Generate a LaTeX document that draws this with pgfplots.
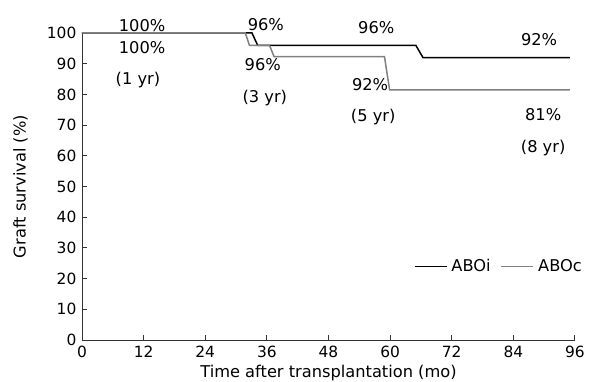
\documentclass[border=0pt]{standalone}
\usepackage{pgfplots}
\pgfplotsset{compat=1.18}
\usetikzlibrary{calc}
\usepackage{fontspec}
\setmainfont{DejaVu Sans}
\newcommand{\lf}{\fontsize{16.3}{19}\selectfont}
\begin{document}
\lf
\begin{tikzpicture}
\begin{axis}[
  scale only axis,
  width=493bp, height=307bp,
  xmin=0, xmax=96, ymin=0, ymax=100,
  axis lines=left,
  axis line style={-, black!80, line width=1pt},
  xtick={0,12,...,96}, ytick={0,10,...,100},
  tick style={black!80, line width=1pt},
  tick align=inside,
  major tick length=5bp,
  /pgf/number format/assume math mode=true,
  ticklabel style={font=\fontsize{15.5}{18}\selectfont},
  xlabel={Time after transplantation (mo)},
  ylabel={Graft survival (\%)},
  xlabel shift=-3bp,
  ylabel shift=8bp,
  label style={font=\lf},
  clip=false,
  legend style={draw=none, fill=none, inner sep=0pt, at={(axis cs:64.6,23.9)}, anchor=west,
    legend columns=2, font=\lf, legend cell align=left,
    /tikz/every odd column/.append style={column sep=2bp},
    /tikz/every even column/.append style={column sep=8bp}},
  legend image code/.code={\draw[#1] (0bp,0bp) -- (32bp,0bp);},
]
\addplot[black, line width=1.5pt] coordinates {(0,100) (33.1,100) (34.2,96) (65,96) (66.4,92) (95,92)};
\addlegendentry{ABOi}
\addplot[black!50, line width=1.5pt] coordinates {(0,100) (31.8,100) (32.6,96) (36.5,96) (37.4,92.3) (58.9,92.3) (59.9,81.5) (95,81.5)};
\addlegendentry{ABOc}
\node at (axis cs:11.7,102.3) {100\%};
\node at (axis cs:11.7,95.1) {100\%};
\node at (axis cs:10.9,84.7) {(1 yr)};
\node at (axis cs:35.8,102.6) {96\%};
\node at (axis cs:35.2,89.6) {96\%};
\node at (axis cs:35.6,78.8) {(3 yr)};
\node at (axis cs:57.3,101.6) {96\%};
\node at (axis cs:56.1,83.1) {92\%};
\node at (axis cs:56.7,72.6) {(5 yr)};
\node at (axis cs:89.0,97.7) {92\%};
\node at (axis cs:89.8,73.3) {81\%};
\node at (axis cs:89.8,62.5) {(8 yr)};
\coordinate (bl) at (rel axis cs:0,0);
\end{axis}
\pgfresetboundingbox
\path[use as bounding box] ($(bl)+(-82bp,-42bp)$) rectangle ($(bl)+(508bp,340bp)$);
\end{tikzpicture}
\end{document}
